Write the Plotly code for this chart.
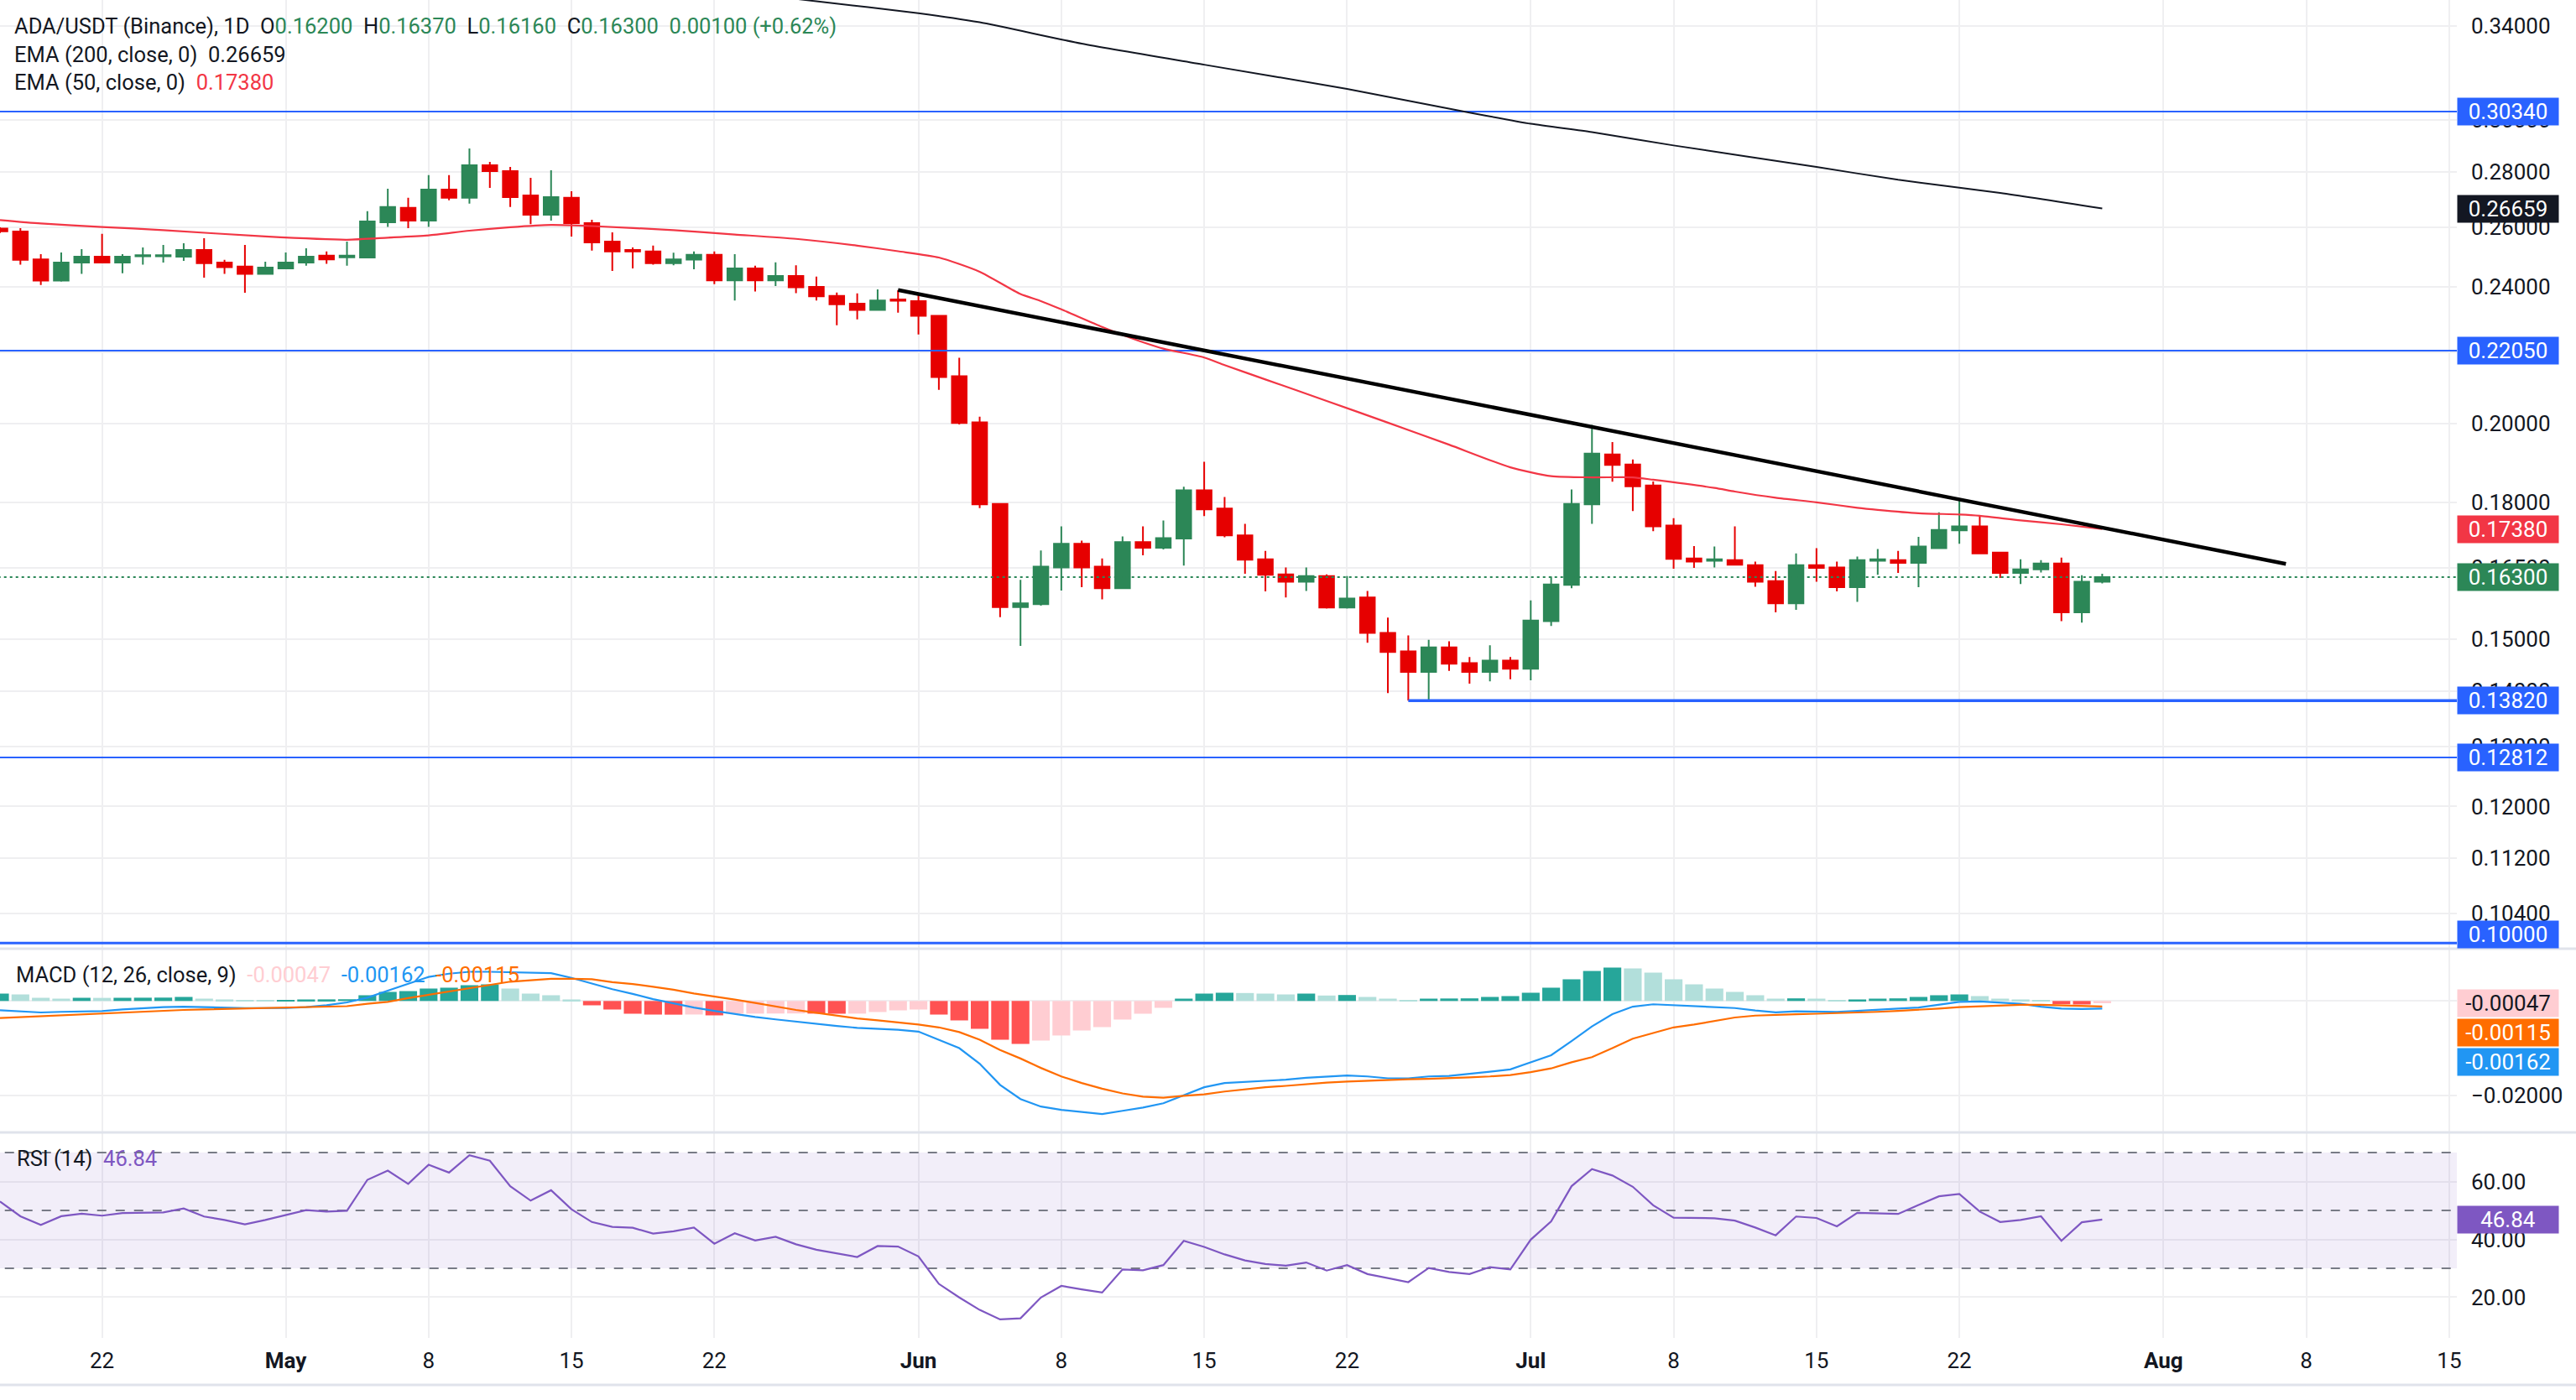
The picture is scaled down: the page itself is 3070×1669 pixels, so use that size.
import math
import pandas as pd
import plotly.graph_objects as go
from plotly.subplots import make_subplots

# ---------------- data ----------------
start_date = "2024-04-17"
n_days = 104
dates = pd.date_range(start_date, periods=n_days, freq="D")

opens = [0.2595, 0.2585, 0.2491, 0.2421, 0.2480, 0.2500, 0.2480, 0.2501, 0.2501, 0.2500,
         0.2522, 0.2480, 0.2467, 0.2443, 0.2461, 0.2480, 0.2503, 0.2498, 0.2497, 0.2617,
         0.2668, 0.2623, 0.2734, 0.2704, 0.2824, 0.2802, 0.2713, 0.2644, 0.2704, 0.2614,
         0.2551, 0.2522, 0.2517, 0.2478, 0.2490, 0.2506, 0.2422, 0.2461, 0.2422, 0.2436,
         0.2401, 0.2372, 0.2348, 0.2328, 0.2361, 0.2356, 0.2310, 0.2131, 0.2004, 0.1797,
         0.1566, 0.1572, 0.1651, 0.1704, 0.1653, 0.1606, 0.1708, 0.1695, 0.1716, 0.1830,
         0.1786, 0.1723, 0.1669, 0.1636, 0.1620, 0.1632, 0.1565, 0.1586, 0.1513, 0.1476,
         0.1436, 0.1484, 0.1453, 0.1436, 0.1458, 0.1442, 0.1537, 0.1613, 0.1796, 0.1920,
         0.1894, 0.1842, 0.1746, 0.1671, 0.1666, 0.1667, 0.1656, 0.1621, 0.1574, 0.1656,
         0.1651, 0.1608, 0.1666, 0.1667, 0.1661, 0.1694, 0.1735, 0.1744, 0.1684, 0.1639,
         0.1647, 0.1660, 0.1555, 0.1620]
highs = [0.2600, 0.2597, 0.2508, 0.2514, 0.2525, 0.2577, 0.2508, 0.2531, 0.2539, 0.2545,
         0.2562, 0.2489, 0.2539, 0.2483, 0.2514, 0.2528, 0.2517, 0.2551, 0.2656, 0.2737,
         0.2704, 0.2787, 0.2787, 0.2888, 0.2837, 0.2818, 0.2777, 0.2805, 0.2728, 0.2626,
         0.2582, 0.2531, 0.2537, 0.2513, 0.2517, 0.2517, 0.2508, 0.2470, 0.2481, 0.2471,
         0.2434, 0.2383, 0.2380, 0.2393, 0.2390, 0.2375, 0.2312, 0.2184, 0.2019, 0.1799,
         0.1624, 0.1689, 0.1744, 0.1711, 0.1671, 0.1721, 0.1744, 0.1758, 0.1839, 0.1901,
         0.1814, 0.1750, 0.1688, 0.1651, 0.1651, 0.1636, 0.1632, 0.1600, 0.1544, 0.1508,
         0.1499, 0.1496, 0.1465, 0.1488, 0.1465, 0.1580, 0.1631, 0.1832, 0.1997, 0.1952,
         0.1907, 0.1852, 0.1763, 0.1699, 0.1698, 0.1744, 0.1664, 0.1643, 0.1682, 0.1694,
         0.1664, 0.1675, 0.1692, 0.1688, 0.1720, 0.1777, 0.1808, 0.1769, 0.1686, 0.1669,
         0.1667, 0.1673, 0.1634, 0.1637]
lows = [0.2580, 0.2473, 0.2407, 0.2418, 0.2443, 0.2478, 0.2445, 0.2473, 0.2480, 0.2486,
        0.2431, 0.2443, 0.2382, 0.2440, 0.2458, 0.2470, 0.2476, 0.2470, 0.2494, 0.2601,
        0.2597, 0.2601, 0.2695, 0.2683, 0.2740, 0.2671, 0.2611, 0.2623, 0.2568, 0.2520,
        0.2453, 0.2461, 0.2473, 0.2471, 0.2458, 0.2410, 0.2358, 0.2386, 0.2404, 0.2381,
        0.2358, 0.2281, 0.2299, 0.2326, 0.2320, 0.2253, 0.2093, 0.1998, 0.1787, 0.1545,
        0.1487, 0.1569, 0.1601, 0.1608, 0.1582, 0.1604, 0.1678, 0.1691, 0.1655, 0.1768,
        0.1719, 0.1637, 0.1599, 0.1586, 0.1600, 0.1563, 0.1563, 0.1493, 0.1396, 0.1382,
        0.1382, 0.1438, 0.1414, 0.1418, 0.1422, 0.1420, 0.1527, 0.1606, 0.1750, 0.1851,
        0.1780, 0.1733, 0.1648, 0.1650, 0.1651, 0.1655, 0.1609, 0.1555, 0.1560, 0.1620,
        0.1599, 0.1577, 0.1635, 0.1639, 0.1608, 0.1693, 0.1704, 0.1681, 0.1628, 0.1615,
        0.1640, 0.1537, 0.1534, 0.1616]
closes = [0.2586, 0.2489, 0.2421, 0.2480, 0.2500, 0.2480, 0.2500, 0.2505, 0.2505, 0.2522,
          0.2478, 0.2465, 0.2443, 0.2464, 0.2480, 0.2500, 0.2491, 0.2503, 0.2620, 0.2671,
          0.2623, 0.2734, 0.2704, 0.2824, 0.2802, 0.2707, 0.2644, 0.2707, 0.2614, 0.2548,
          0.2517, 0.2517, 0.2478, 0.2491, 0.2506, 0.2422, 0.2461, 0.2422, 0.2436, 0.2400,
          0.2371, 0.2346, 0.2328, 0.2358, 0.2357, 0.2310, 0.2129, 0.2002, 0.1796, 0.1566,
          0.1574, 0.1653, 0.1704, 0.1651, 0.1606, 0.1708, 0.1695, 0.1717, 0.1830, 0.1784,
          0.1723, 0.1668, 0.1635, 0.1620, 0.1632, 0.1565, 0.1584, 0.1513, 0.1475, 0.1436,
          0.1484, 0.1452, 0.1436, 0.1458, 0.1442, 0.1538, 0.1614, 0.1797, 0.1922, 0.1893,
          0.1840, 0.1744, 0.1670, 0.1664, 0.1669, 0.1657, 0.1620, 0.1574, 0.1656, 0.1650,
          0.1608, 0.1667, 0.1669, 0.1661, 0.1698, 0.1736, 0.1744, 0.1682, 0.1639, 0.1647,
          0.1660, 0.1555, 0.1620, 0.1630]

ema50_dates = ["2024-04-17", "2024-04-19", "2024-04-22", "2024-04-25", "2024-04-30", "2024-05-04",
               "2024-05-06", "2024-05-08", "2024-05-10", "2024-05-12", "2024-05-14", "2024-05-16",
               "2024-05-20", "2024-05-23", "2024-05-26", "2024-05-29", "2024-05-31", "2024-06-02",
               "2024-06-04", "2024-06-06", "2024-06-07", "2024-06-08", "2024-06-10", "2024-06-11",
               "2024-06-12", "2024-06-13", "2024-06-15", "2024-06-16", "2024-06-18", "2024-06-21",
               "2024-06-24", "2024-06-27", "2024-06-30", "2024-07-02", "2024-07-04", "2024-07-06",
               "2024-07-07", "2024-07-10", "2024-07-11", "2024-07-13", "2024-07-15", "2024-07-17",
               "2024-07-18", "2024-07-20", "2024-07-22", "2024-07-23", "2024-07-25", "2024-07-27",
               "2024-07-29"]
ema50_values = [0.2625, 0.2613, 0.2601, 0.2590, 0.2568, 0.2557,
                0.2564, 0.2572, 0.2588, 0.2600, 0.2608, 0.2604,
                0.2590, 0.2575, 0.2560, 0.2537, 0.2518, 0.2497,
                0.2450, 0.2378, 0.2356, 0.2330, 0.2276, 0.2252,
                0.2230, 0.2211, 0.2185, 0.2163, 0.2122, 0.2062,
                0.2003, 0.1945, 0.1887, 0.1865, 0.1862, 0.1862,
                0.1856, 0.1836, 0.1827, 0.1812, 0.1801, 0.1788,
                0.1783, 0.1775, 0.1772, 0.1769, 0.1758, 0.1749,
                0.1738]

ema200_dates = ["2024-05-25", "2024-05-27", "2024-06-01", "2024-06-04", "2024-06-09", "2024-06-15",
                "2024-06-22", "2024-06-28", "2024-07-01", "2024-07-04", "2024-07-08", "2024-07-15",
                "2024-07-19", "2024-07-24", "2024-07-29"]
ema200_values = [0.3538, 0.3515, 0.3460, 0.3418, 0.3322, 0.3230,
                 0.3127, 0.3030, 0.2985, 0.2952, 0.2900, 0.2818,
                 0.2770, 0.2722, 0.2666]

macd_line = [-0.00196, -0.0022, -0.00243, -0.0023, -0.0022, -0.00213, -0.0018, -0.0015, -0.0013, -0.0012,
             -0.0013, -0.0015, -0.0015, -0.0015, -0.00148, -0.0013, -0.0009, -0.0003, 0.0007, 0.0022,
             0.0037, 0.0051, 0.0058, 0.0062, 0.0062, 0.0061, 0.0060, 0.0059, 0.0049, 0.0037,
             0.0025, 0.0015, 0.0004, -0.0005, -0.0014, -0.0021, -0.0028, -0.0034, -0.0039, -0.0044,
             -0.0049, -0.0053, -0.0057, -0.0059, -0.0061, -0.0065, -0.0082, -0.0100, -0.0133, -0.0178,
             -0.0208, -0.0224, -0.0231, -0.0236, -0.0240, -0.0233, -0.0226, -0.0217, -0.0200, -0.0183,
             -0.0174, -0.0172, -0.0170, -0.0167, -0.0163, -0.0161, -0.0158, -0.0160, -0.0164, -0.0164,
             -0.0160, -0.0159, -0.0155, -0.0150, -0.0145, -0.0130, -0.0115, -0.0085, -0.0054, -0.0028,
             -0.0012, -0.0007, -0.0009, -0.0011, -0.0013, -0.0015, -0.0020, -0.0024, -0.0022, -0.0022,
             -0.0023, -0.0021, -0.0018, -0.0016, -0.0014, -0.0008, -0.0002, -0.0001, -0.0004, -0.0006,
             -0.0012, -0.0016, -0.0017, -0.00162]
signal_line = [-0.0036, -0.0034, -0.0032, -0.0030, -0.0029, -0.0027, -0.0025, -0.0022, -0.0020, -0.0019,
               -0.0018, -0.0017, -0.0016, -0.0015, -0.0015, -0.0013, -0.0012, -0.0011, -0.0006, -0.0002,
               0.0006, 0.0013, 0.0020, 0.0028, 0.0034, 0.0041, 0.0044, 0.0047, 0.0047, 0.0046,
               0.0040, 0.0036, 0.0030, 0.0024, 0.0016, 0.0010, 0.0003, -0.0004, -0.0012, -0.0019,
               -0.0025, -0.0031, -0.0037, -0.0041, -0.0045, -0.0050, -0.0056, -0.0066, -0.0082, -0.0104,
               -0.0122, -0.0142, -0.0160, -0.0174, -0.0186, -0.0196, -0.0203, -0.0205, -0.0201, -0.0198,
               -0.0192, -0.0187, -0.0183, -0.0180, -0.0176, -0.0173, -0.0171, -0.0169, -0.0167, -0.0166,
               -0.0165, -0.0164, -0.0162, -0.0160, -0.0157, -0.0151, -0.0143, -0.0130, -0.0119, -0.0100,
               -0.0080, -0.0068, -0.0056, -0.0050, -0.0043, -0.0035, -0.0031, -0.0029, -0.0028, -0.0027,
               -0.0026, -0.0025, -0.0023, -0.0021, -0.0019, -0.0016, -0.0013, -0.0011, -0.0009, -0.0008,
               -0.0008, -0.0009, -0.0011, -0.00115]
macd_hist = [0.00157, 0.00139, 0.00068, 0.0005, 0.00068, 0.00066, 0.00068, 0.0007, 0.00072, 0.00086,
             0.0005, 0.00033, 0.00015, 0.00012, 0.00016, 0.00033, 0.00035, 0.00037, 0.00122, 0.00193,
             0.0021, 0.00264, 0.00282, 0.00335, 0.00353, 0.00264, 0.00157, 0.00122, 0.00033, -0.00092,
             -0.00181, -0.0027, -0.00288, -0.0029, -0.00287, -0.00305, -0.0027, -0.00268, -0.00266, -0.00264,
             -0.00268, -0.0027, -0.00268, -0.00234, -0.00199, -0.00181, -0.00288, -0.00412, -0.0059, -0.00821,
             -0.0091, -0.00839, -0.00732, -0.00626, -0.00554, -0.00394, -0.0027, -0.00145, 0.0005, 0.00157,
             0.00175, 0.00169, 0.00157, 0.00139, 0.00157, 0.00116, 0.00127, 0.00086, 0.0005, 0.00015,
             0.0005, 0.00053, 0.00056, 0.00086, 0.00104, 0.00175, 0.00282, 0.0046, 0.00637, 0.00709,
             0.00691, 0.00602, 0.0046, 0.00353, 0.00264, 0.00193, 0.00122, 0.0005, 0.00056, 0.0005,
             0.00015, 0.00033, 0.0005, 0.00056, 0.00086, 0.00122, 0.00139, 0.00104, 0.0005, 0.00033,
             0.00015, -0.00068, -0.00074, -0.00047]
rsi_values = [53.1, 48.0, 45.0, 48.0, 48.9, 48.2, 49.1, 49.3, 49.3, 50.7,
              47.9, 46.7, 45.2, 46.7, 48.3, 50.1, 49.6, 49.9, 60.6, 63.8,
              59.2, 65.8, 63.1, 69.1, 67.2, 58.4, 53.4, 57.0, 50.4, 46.0,
              44.3, 44.0, 42.0, 42.8, 44.1, 38.5, 42.1, 39.6, 40.9, 38.3,
              36.4, 35.1, 33.9, 37.7, 37.5, 34.1, 24.6, 19.9, 15.6, 12.3,
              12.7, 19.9, 23.9, 22.7, 21.6, 29.6, 29.3, 31.1, 39.5, 37.4,
              34.8, 32.7, 31.5, 30.9, 32.0, 29.2, 31.1, 28.0, 26.6, 25.2,
              30.1, 28.7, 28.0, 30.4, 29.6, 39.9, 46.2, 58.4, 64.3, 62.1,
              58.2, 51.8, 47.5, 47.3, 47.3, 46.5, 44.1, 41.4, 47.9, 47.4,
              44.5, 49.2, 49.1, 48.8, 51.9, 54.9, 55.7, 49.6, 46.0, 46.7,
              48.0, 39.5, 45.9, 46.84]

trend_dates = ["2024-05-31", "2024-08-07"]
trend_values = [0.2391, 0.1659]
full_levels = [0.3034, 0.2205, 0.12812, 0.10]
support_start = "2024-06-25"
support_level = 0.1382
last_price = 0.163
ema200_last = 0.26659
ema50_last = 0.1738

price_ticks = [0.34, 0.30, 0.28, 0.26, 0.24, 0.22, 0.20, 0.18, 0.165, 0.15, 0.14, 0.13, 0.12, 0.112, 0.104]
x_tick_dates = ["2024-04-22", "2024-05-01", "2024-05-08", "2024-05-15", "2024-05-22", "2024-06-01",
                "2024-06-08", "2024-06-15", "2024-06-22", "2024-07-01", "2024-07-08", "2024-07-15",
                "2024-07-22", "2024-08-01", "2024-08-08", "2024-08-15"]
x_tick_text = ["22", "<b>May</b>", "8", "15", "22", "<b>Jun</b>", "8", "15", "22", "<b>Jul</b>",
               "8", "15", "22", "<b>Aug</b>", "8", "15"]
macd_ticks = [0.0, -0.02]
rsi_ticks = [20, 40, 60]
rsi_levels = [70, 50, 30]

# ---------------- style ----------------
UP = "#2C8757"
DN = "#E60000"
BLUE = "#2962FF"
TXT = "#131722"
GRID = "#EFEFF1"
FONT = "Roboto, 'Liberation Sans', sans-serif"
FS = 26
LFS = 25.5
X_START = "2024-04-17 00:00"
X_END = "2024-08-15 09:00"
LINE_X = ["2024-04-10", "2024-08-25"]

fig = make_subplots(rows=3, cols=1, shared_xaxes=True, vertical_spacing=0,
                    row_heights=[1131, 219, 245])

# RSI background band (drawn first as a trace so it sits under the line)
fig.add_trace(go.Scatter(x=LINE_X + LINE_X[::-1], y=[30, 30, 70, 70], mode="lines", fill="toself",
                         fillcolor="rgba(126,87,194,0.10)", line=dict(width=0),
                         showlegend=False, hoverinfo="skip"), row=3, col=1)
for lv in rsi_levels:
    fig.add_trace(go.Scatter(x=LINE_X, y=[lv, lv], mode="lines",
                             line=dict(color="#787B86", width=2, dash="11px,11px"),
                             showlegend=False, hoverinfo="skip"), row=3, col=1)

# price pane
fig.add_trace(go.Candlestick(
    x=dates, open=opens, high=highs, low=lows, close=closes,
    increasing=dict(line=dict(color=UP, width=2), fillcolor=UP),
    decreasing=dict(line=dict(color=DN, width=2), fillcolor=DN),
    whiskerwidth=0, showlegend=False), row=1, col=1)

for lvl in full_levels:
    fig.add_trace(go.Scatter(x=LINE_X, y=[lvl, lvl], mode="lines",
                             line=dict(color=BLUE, width=3 if lvl == 0.10 else 2),
                             showlegend=False, hoverinfo="skip"), row=1, col=1)
fig.add_trace(go.Scatter(x=[support_start, LINE_X[1]], y=[support_level, support_level], mode="lines",
                         line=dict(color=BLUE, width=3.5), showlegend=False, hoverinfo="skip"), row=1, col=1)
fig.add_trace(go.Scatter(x=LINE_X, y=[last_price, last_price], mode="lines",
                         line=dict(color=UP, width=2, dash="3px,4px"), showlegend=False,
                         hoverinfo="skip"), row=1, col=1)
fig.add_trace(go.Scatter(x=ema200_dates, y=ema200_values, mode="lines",
                         line=dict(color=TXT, width=2, shape="spline", smoothing=0.6),
                         showlegend=False, hoverinfo="skip"), row=1, col=1)
fig.add_trace(go.Scatter(x=ema50_dates, y=ema50_values, mode="lines",
                         line=dict(color="#F23645", width=2.2, shape="spline", smoothing=0.6),
                         showlegend=False, hoverinfo="skip"), row=1, col=1)
fig.add_trace(go.Scatter(x=trend_dates, y=trend_values, mode="lines",
                         line=dict(color="#000000", width=4.5), showlegend=False,
                         hoverinfo="skip"), row=1, col=1)

# MACD pane
hist_colors = []
prev = None
for v in macd_hist:
    if v >= 0:
        c = "#26A69A" if (prev is None or v > prev) else "#B2DFDB"
    else:
        c = "#FF5252" if (prev is None or v < prev) else "#FFCDD2"
    hist_colors.append(c)
    prev = v
fig.add_trace(go.Bar(x=dates, y=macd_hist, marker=dict(color=hist_colors, line=dict(width=0)),
                     showlegend=False, hoverinfo="skip"), row=2, col=1)
fig.add_trace(go.Scatter(x=dates, y=macd_line, mode="lines", line=dict(color="#2196F3", width=2.2),
                         showlegend=False, hoverinfo="skip"), row=2, col=1)
fig.add_trace(go.Scatter(x=dates, y=signal_line, mode="lines", line=dict(color="#FF6D00", width=2.2),
                         showlegend=False, hoverinfo="skip"), row=2, col=1)

# RSI line
fig.add_trace(go.Scatter(x=dates, y=rsi_values, mode="lines", line=dict(color="#7E57C2", width=2.2),
                         showlegend=False, hoverinfo="skip"), row=3, col=1)

# axes
axis_font = dict(family=FONT, size=FS, color=TXT)
for r in (1, 2, 3):
    fig.update_xaxes(row=r, col=1, type="date", range=[X_START, X_END], tickvals=x_tick_dates,
                     ticktext=x_tick_text, showgrid=True, gridcolor=GRID, gridwidth=2,
                     zeroline=False, showline=False, rangeslider_visible=False,
                     showticklabels=(r == 3), tickfont=axis_font, ticklabelstandoff=9)
fig.update_yaxes(row=1, col=1, type="log", side="right",
                 range=[math.log10(0.09925), math.log10(0.35213)],
                 tickvals=price_ticks, ticktext=[f"{t:.5f}" for t in price_ticks],
                 showgrid=True, gridcolor=GRID, gridwidth=2, zeroline=False,
                 tickfont=axis_font, ticklabelstandoff=16)
fig.update_yaxes(row=2, col=1, side="right", range=[-0.02788, 0.01109],
                 tickvals=macd_ticks, ticktext=["0.00000", "\u22120.02000"],
                 showgrid=True, gridcolor=GRID, gridwidth=2, zeroline=False,
                 tickfont=axis_font, ticklabelstandoff=16)
fig.update_yaxes(row=3, col=1, side="right", range=[5.9, 77.0],
                 tickvals=rsi_ticks, ticktext=[f"{t:.2f}" for t in rsi_ticks],
                 showgrid=True, gridcolor=GRID, gridwidth=2, zeroline=False,
                 tickfont=axis_font, ticklabelstandoff=16)

# pane separators and bottom border
for yp in (464 / 1595, 245 / 1595, -56 / 1595):
    fig.add_shape(type="line", xref="paper", yref="paper", x0=0, x1=3070 / 2928, y0=yp, y1=yp,
                  line=dict(color="#E0E3EB", width=3))

# axis value labels
def axis_label(y, text, bg, fg, yref, yshift=0):
    fig.add_annotation(xref="paper", x=1.0, xanchor="left", yref=yref, y=y, yanchor="middle",
                       text=text, showarrow=False, bgcolor=bg, width=118, height=30,
                       borderpad=1, align="center", yshift=yshift,
                       font=dict(family=FONT, size=FS, color=fg))

axis_label(math.log10(0.3034), "0.30340", BLUE, "white", "y")
axis_label(math.log10(ema200_last), f"{ema200_last:.5f}", TXT, "white", "y")
axis_label(math.log10(0.2205), "0.22050", BLUE, "white", "y")
axis_label(math.log10(ema50_last), f"{ema50_last:.5f}", "#F23645", "white", "y")
axis_label(math.log10(last_price), f"{last_price:.5f}", UP, "white", "y")
axis_label(math.log10(support_level), f"{support_level:.5f}", BLUE, "white", "y")
axis_label(math.log10(0.12812), "0.12812", BLUE, "white", "y")
axis_label(math.log10(0.10), "0.10000", BLUE, "white", "y", yshift=10)
axis_label(macd_hist[-1], f"{macd_hist[-1]:.5f}", "#FFCDD2", TXT, "y2")
axis_label(macd_hist[-1], f"{signal_line[-1]:.5f}", "#FF6D00", "white", "y2", yshift=-35)
axis_label(macd_hist[-1], f"{macd_line[-1]:.5f}", "#2196F3", "white", "y2", yshift=-70)
axis_label(rsi_values[-1], f"{rsi_values[-1]:.2f}", "#7E57C2", "white", "y3")

# legends (top-left texts)
G = UP
NB = "\u00a0"
def legend(ytop_px, x_px, html):
    fig.add_annotation(xref="paper", yref="paper", x=x_px / 2928, y=(1595 - ytop_px) / 1595,
                       xanchor="left", yanchor="middle", text=html, showarrow=False, align="left",
                       font=dict(family=FONT, size=LFS, color=TXT))

o, h, l, c = opens[-1], highs[-1], lows[-1], closes[-1]
chg = c - o
legend(31, 15, f"ADA/USDT (Binance), 1D{NB*2}O<span style='color:{G}'>{o:.5f}</span>{NB*2}"
               f"H<span style='color:{G}'>{h:.5f}</span>{NB*2}L<span style='color:{G}'>{l:.5f}</span>{NB*2}"
               f"C<span style='color:{G}'>{c:.5f}</span>{NB*2}"
               f"<span style='color:{G}'>{chg:.5f} (+{chg / o * 100:.2f}%)</span>")
legend(65, 15, f"EMA (200, close, 0){NB*2}<span style='color:{TXT}'>{ema200_last:.5f}</span>")
legend(98, 15, f"EMA (50, close, 0){NB*2}<span style='color:#F23645'>{ema50_last:.5f}</span>")
legend(1162, 17, f"MACD (12, 26, close, 9){NB*2}<span style='color:#FFCDD2'>{macd_hist[-1]:.5f}</span>"
                 f"{NB*2}<span style='color:#2196F3'>{macd_line[-1]:.5f}</span>"
                 f"{NB*2}<span style='color:#FF6D00'>{signal_line[-1]:.5f}</span>")
legend(1381, 18, f"RSI (14){NB*2}<span style='color:#7E57C2'>{rsi_values[-1]:.2f}</span>")

fig.update_layout(width=3070, height=1669, margin=dict(l=0, r=142, t=0, b=74),
                  paper_bgcolor="white", plot_bgcolor="white", showlegend=False,
                  boxgap=0.28, boxgroupgap=0, bargap=0.13, hovermode=False,
                  font=dict(family=FONT, size=FS, color=TXT))

fig.write_html("out.html")
